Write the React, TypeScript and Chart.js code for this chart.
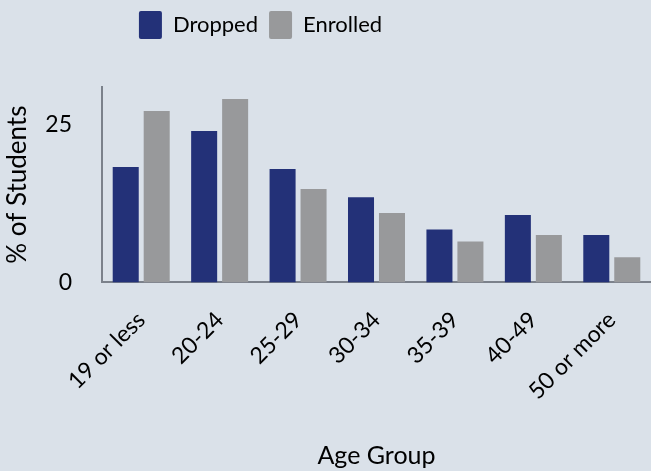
import React, { useEffect, useRef } from "react";
import { Chart, registerables } from "chart.js";

Chart.register(...registerables);

const categories = ["19 or less", "20-24", "25-29", "30-34", "35-39", "40-49", "50 or more"];
const dropped = [18.3, 24.0, 18.0, 13.5, 8.4, 10.7, 7.5];
const enrolled = [27.2, 29.1, 14.8, 11.0, 6.5, 7.5, 4.0];
const yTicks = [0, 25];

const legendSpacer = {
  id: "legendSpacer",
  beforeInit(chart: any) {
    const legend = chart.legend;
    if (!legend) return;
    const orig = legend.fit;
    legend.fit = function () {
      orig.call(this);
      this.height += 38;
    };
  },
  afterLayout(chart: any) {
    const legend = chart.legend;
    if (!legend) return;
    legend.left = 0;
    legend.right = 521;
  },
};

export default function App() {
  const ref = useRef<HTMLCanvasElement | null>(null);
  useEffect(() => {
    document.body.style.margin = "0";
    let chart: any = null;
    let cancelled = false;
    const font = "Lato, 'Noto Sans', sans-serif";
    const build = () => {
      if (cancelled || !ref.current) return;
      chart = new Chart(ref.current, {
        type: "bar",
        data: {
          labels: categories,
          datasets: [
            { label: "Dropped", data: dropped, backgroundColor: "#233178", borderWidth: 0 },
            { label: "Enrolled", data: enrolled, backgroundColor: "#98999b", borderWidth: 0 },
          ],
        },
        plugins: [legendSpacer],
        options: {
          animation: false,
          responsive: false,
          maintainAspectRatio: false,
          layout: { padding: { left: 2, right: 0, top: 0, bottom: 0 } },
          datasets: { bar: { categoryPercentage: 0.79, barPercentage: 0.84 } },
          plugins: {
            legend: {
              position: "top",
              labels: {
                boxWidth: 23,
                boxHeight: 28,
                padding: 11,
                color: "#000",
                useBorderRadius: true,
                borderRadius: 2,
                font: { family: font, size: 22 },
              },
            },
            tooltip: { enabled: false },
          },
          scales: {
            x: {
              grid: { display: false, drawTicks: false },
              border: { display: true, color: "#7b818b", width: 2 },
              afterFit(scale: any) {
                scale.paddingLeft = 0;
                scale.paddingRight = 0;
              },
              ticks: {
                color: "#000",
                minRotation: 45,
                maxRotation: 45,
                padding: 24,
                font: { family: font, size: 23 },
              },
              title: {
                display: true,
                text: "Age Group",
                color: "#000",
                font: { family: font, size: 25 },
                padding: { top: 12, bottom: 0 },
              },
            },
            y: {
              min: 0,
              max: 31,
              grid: { display: false, drawTicks: false },
              border: { display: true, color: "#7b818b", width: 2 },
              afterBuildTicks(axis: any) {
                axis.ticks = yTicks.map((v) => ({ value: v }));
              },
              afterFit(scale: any) {
                scale.width = 100;
              },
              ticks: {
                color: "#000",
                padding: 30,
                font: { family: font, size: 23 },
              },
              title: {
                display: true,
                text: "% of Students",
                color: "#000",
                font: { family: font, size: 26 },
                padding: { top: 0, bottom: 0 },
              },
            },
          },
        },
      });
    };
    const fonts: any = (document as any).fonts;
    if (fonts && fonts.load) {
      Promise.all([fonts.load("22px Lato"), fonts.load("bold 22px Lato")])
        .catch(() => null)
        .then(build);
    } else {
      build();
    }
    return () => {
      cancelled = true;
      if (chart) chart.destroy();
    };
  }, []);
  return (
    <div style={{ width: 651, height: 471, background: "#dae1e9", overflow: "hidden" }}>
      <canvas ref={ref} width={651} height={471} style={{ display: "block" }} />
    </div>
  );
}
